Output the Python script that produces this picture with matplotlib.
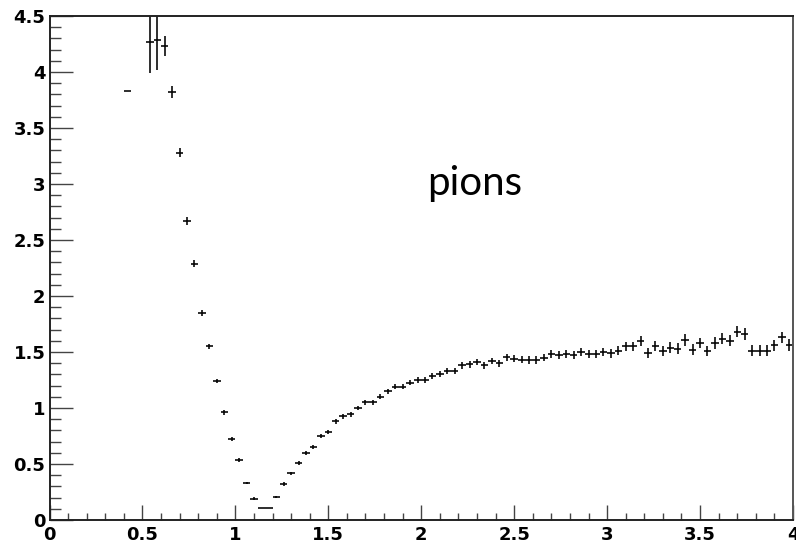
import numpy as np
import matplotlib
matplotlib.use("Agg")
import matplotlib.pyplot as plt
from matplotlib.ticker import MultipleLocator, FuncFormatter

# ---- data (bin centres from 0.42 to 3.98, bin width 0.04) ----
bin_width = 0.04
first_center = 0.42
values = [
    3.83, np.nan, np.nan, 4.27, 4.29, 4.23, 3.82, 3.28,
    2.67, 2.29, 1.85, 1.55, 1.24, 0.96, 0.726, 0.536,
    0.33, 0.19, 0.107, 0.107, 0.205, 0.32, 0.417, 0.51, 0.60, 0.65, 0.75, 0.79,
    0.88, 0.926, 0.944, 1.00, 1.05, 1.05, 1.10, 1.15, 1.19, 1.19, 1.226, 1.25, 1.25,
    1.286, 1.30, 1.33, 1.33, 1.38, 1.39, 1.41, 1.38, 1.42, 1.40, 1.455, 1.44,
    1.43, 1.43, 1.43, 1.45, 1.48, 1.47, 1.48, 1.47, 1.50, 1.48, 1.48, 1.50,
    1.49, 1.51, 1.55, 1.55, 1.60, 1.49, 1.55, 1.51, 1.54, 1.53, 1.61, 1.52, 1.58,
    1.51, 1.58, 1.62, 1.60, 1.68, 1.66, 1.51, 1.51, 1.51, 1.56, 1.63, 1.56,
]
errors = [
    0.0, 0.0, 0.0, 0.28, 0.275, 0.09, 0.055, 0.04,
    0.035, 0.03, 0.025, 0.025, 0.02, 0.02, 0.018, 0.016,
    0.012, 0.015, 0.0, 0.0, 0.012, 0.015, 0.015, 0.016, 0.016, 0.017, 0.018, 0.018,
    0.02, 0.02, 0.02, 0.022, 0.022, 0.022, 0.022, 0.024, 0.024, 0.024, 0.025, 0.025, 0.026,
    0.026, 0.027, 0.027, 0.028, 0.028, 0.029, 0.029, 0.03, 0.03, 0.031, 0.031, 0.032,
    0.032, 0.033, 0.033, 0.034, 0.034, 0.035, 0.035, 0.036, 0.036, 0.037, 0.037, 0.038,
    0.04, 0.04, 0.042, 0.042, 0.044, 0.044, 0.045, 0.045, 0.046, 0.046, 0.055, 0.047, 0.048,
    0.048, 0.05, 0.05, 0.05, 0.05, 0.05, 0.05, 0.05, 0.05, 0.05, 0.052, 0.052,
]
label_text = "pions"
x_range = (0, 4)
y_range = (0, 4.5)

plt.rcParams['font.family'] = ['DejaVu Sans']
plt.rcParams['font.weight'] = 'bold'

centers = first_center + bin_width * np.arange(len(values))
values = np.array(values)
errors = np.array(errors)

fig = plt.figure(figsize=(7.96, 5.46), dpi=100)
ax = fig.add_axes([49.5 / 796, 26 / 546, (793 - 49.5) / 796, (520 - 16) / 546])

ax.errorbar(centers, values, yerr=errors, xerr=bin_width / 2, fmt='none',
            ecolor='black', elinewidth=1.15, capsize=0)

ax.set_xlim(*x_range)
ax.set_ylim(*y_range)

ax.xaxis.set_major_locator(MultipleLocator(0.5))
ax.xaxis.set_minor_locator(MultipleLocator(0.1))
ax.yaxis.set_major_locator(MultipleLocator(0.5))
ax.yaxis.set_minor_locator(MultipleLocator(0.1))

fmt = FuncFormatter(lambda v, p: ('%g' % v))
ax.xaxis.set_major_formatter(fmt)
ax.yaxis.set_major_formatter(fmt)

ax.tick_params(axis='both', which='both', direction='in', top=False, right=False,
               color='#444444', width=1.0, labelsize=13)
ax.tick_params(axis='y', which='major', length=16.5, pad=3)
ax.tick_params(axis='y', which='minor', length=8)
ax.tick_params(axis='x', which='major', length=10.8, pad=4)
ax.tick_params(axis='x', which='minor', length=5.2)

for s in ax.spines.values():
    s.set_linewidth(1.4)
    s.set_color('#222222')
ax.spines['right'].set_color('#555555')

ax.text(2.29, 2.90, label_text, fontsize=29, family='Lato', fontweight='normal',
        ha='center', va='baseline', color='black')

fig.savefig('out.png', dpi=100)
